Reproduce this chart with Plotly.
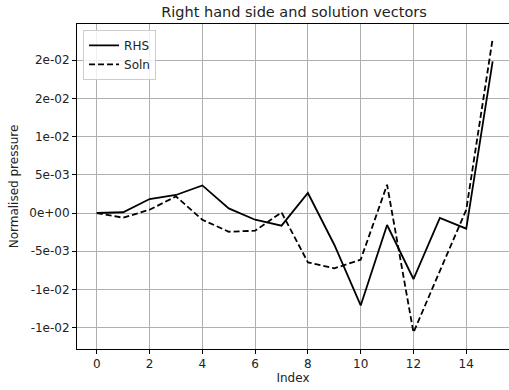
import plotly.graph_objects as go

index = list(range(16))
rhs = [0.0, 0.0001, 0.00183, 0.00236, 0.00361, 0.0006, -0.00088, -0.00166,
       0.00262, -0.00415, -0.0121, -0.00157, -0.00864, -0.00065, -0.00205, 0.01984]
soln = [0.0, -0.00062, 0.00043, 0.00217, -0.00088, -0.00245, -0.00232, 0.00008,
        -0.00646, -0.00725, -0.00611, 0.0037, -0.01563, -0.0075, 0.00043, 0.02281]

y_tickvals = [0.02, 0.015, 0.01, 0.005, 0.0, -0.005, -0.01, -0.015]
y_ticktext = ["2e-02", "2e-02", "1e-02", "5e-03", "0e+00", "-5e-03", "-1e-02", "-1e-02"]
x_tickvals = [0, 2, 4, 6, 8, 10, 12, 14]

FONT = "DejaVu Sans"

fig = go.Figure()
fig.add_trace(go.Scatter(x=index, y=rhs, mode="lines", name="RHS",
                         line=dict(color="black", width=1.8)))
fig.add_trace(go.Scatter(x=index, y=soln, mode="lines", name="Soln",
                         line=dict(color="black", width=1.8, dash="6px,3px")))

axis_common = dict(
    showgrid=True, gridcolor="#b0b0b0", gridwidth=0.9,
    showline=True, linecolor="black", linewidth=1, mirror=True,
    ticks="outside", ticklen=4, tickwidth=1, tickcolor="black",
    zeroline=False, automargin=False,
    tickfont=dict(family=FONT, size=12, color="#222222"),
)

W, H = 509, 390
fig.update_layout(
    width=W, height=H,
    margin=dict(l=77, r=0, t=24, b=H - 349),
    paper_bgcolor="white", plot_bgcolor="white",
    font=dict(family=FONT, size=12, color="#222222"),
    title=dict(text="Right hand side and solution vectors",
               x=294 / W, xref="container", xanchor="center",
               y=1 - 12 / H, yref="container", yanchor="middle",
               font=dict(family=FONT, size=14.5, color="#222222")),
    xaxis=dict(range=[-0.75, 15.62], tickvals=x_tickvals,
               title=dict(text="Index", standoff=3, font=dict(family=FONT, size=12)),
               **axis_common),
    yaxis=dict(range=[-0.0178, 0.02474], tickvals=y_tickvals, ticktext=y_ticktext,
               title=dict(text="Normalised pressure", standoff=8, font=dict(family=FONT, size=12)),
               **axis_common),
    legend=dict(x=0.014, y=0.982, xanchor="left", yanchor="top",
                bgcolor="rgba(255,255,255,0.8)", bordercolor="#cccccc", borderwidth=1,
                font=dict(family=FONT, size=12, color="#222222"),
                tracegroupgap=0),
    showlegend=True,
)

fig.write_html("out.html", config={"displayModeBar": False},
               post_script="document.body.style.margin='0';")
